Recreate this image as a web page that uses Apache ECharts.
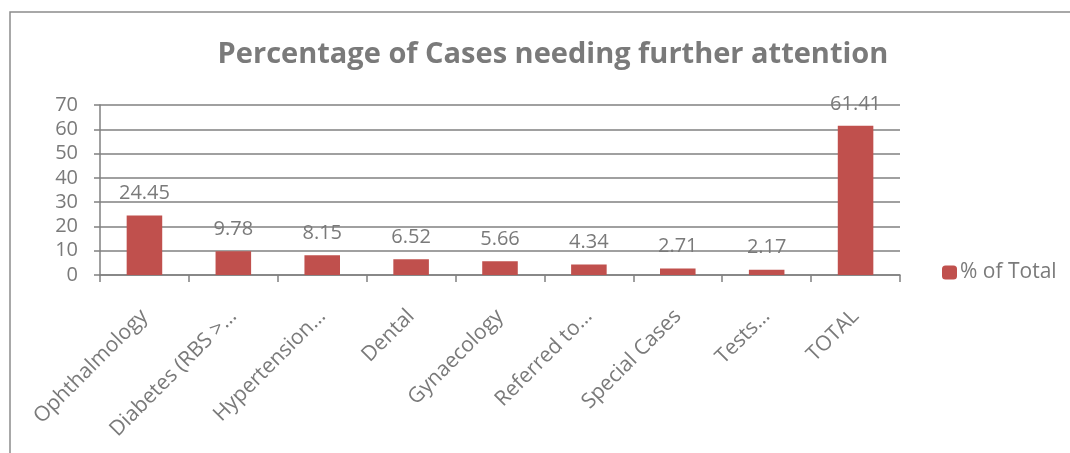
<!DOCTYPE html>
<html>
<head>
<meta charset="utf-8">
<script src="https://cdn.jsdelivr.net/npm/echarts@6/dist/echarts.min.js"></script>
<style>
  html, body { margin: 0; padding: 0; background: #fff; }
  #chart { width: 1070px; height: 453px; }
</style>
</head>
<body>
<div id="chart"></div>
<script>
// categories (long names are cut off in the original, kept as shown)
const categories = ['Ophthalmology', 'Diabetes (RBS >…', 'Hypertension…', 'Dental', 'Gynaecology',
  'Referred to…', 'Special Cases', 'Tests…', 'TOTAL']
const pctOfTotal = [24.45, 9.78, 8.15, 6.52, 5.66, 4.34, 2.71, 2.17, 61.41]
const yTicks = { min: 0, max: 70, interval: 10 }

const gray = '#808080'
const textGray = '#7a7a7a'
const font = '"Open Sans", "Noto Sans", sans-serif'

const chart = echarts.init(document.getElementById('chart'))
chart.setOption({
  animation: false,
  textStyle: { fontFamily: font },
  title: {
    text: 'Percentage of Cases needing further attention',
    left: 548,
    textAlign: 'center',
    top: 35,
    textStyle: { fontFamily: font, fontSize: 29, fontWeight: 'bold', color: textGray }
  },
  graphic: [{
    type: 'rect',
    shape: { x: 10, y: 12, width: 1070, height: 460 },
    style: { fill: 'none', stroke: '#8c8c8c', lineWidth: 1.5 },
    silent: true
  }],
  legend: {
    orient: 'vertical',
    left: 937,
    top: 257,
    itemWidth: 15,
    itemHeight: 14,
    itemGap: 5,
    data: ['% of Total'],
    textStyle: { fontFamily: font, fontSize: 21, color: textGray, padding: [0, 0, 0, -2] }
  },
  grid: { left: 100, right: 170, top: 105, bottom: 178 },
  xAxis: {
    type: 'category',
    data: categories,
    axisLine: { lineStyle: { color: gray, width: 1.5 } },
    axisTick: { show: true, length: 7, lineStyle: { color: gray, width: 1.5 } },
    axisLabel: {
      interval: 0,
      rotate: 45,
      margin: 38,
      fontSize: 21,
      color: textGray,
      fontFamily: font
    }
  },
  yAxis: {
    type: 'value',
    min: yTicks.min,
    max: yTicks.max,
    interval: yTicks.interval,
    axisLine: { show: true, lineStyle: { color: gray, width: 1.5 } },
    axisTick: { show: true, length: 6, lineStyle: { color: gray, width: 1.5 } },
    splitLine: { lineStyle: { color: gray, width: 1.5 } },
    axisLabel: { fontSize: 20, color: textGray, margin: 22, fontFamily: font }
  },
  series: [{
    name: '% of Total',
    type: 'bar',
    data: pctOfTotal,
    barWidth: '40%',
    itemStyle: { color: '#C0504D' },
    label: {
      show: true,
      position: 'top',
      distance: 12,
      fontSize: 20,
      color: textGray,
      fontFamily: font,
      formatter: p => p.value.toFixed(2)
    }
  }]
})
</script>
</body>
</html>
